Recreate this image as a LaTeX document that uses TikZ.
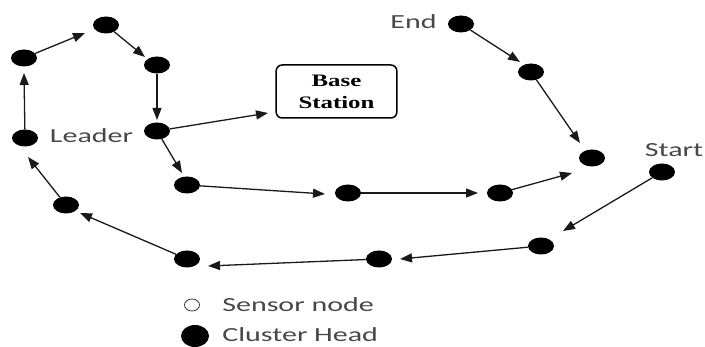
\documentclass[tikz,border=0pt]{standalone}
\usepackage{fontspec}
\newfontfamily\calfont{Carlito}
\newfontfamily\serfont{Liberation Serif}
\usetikzlibrary{arrows.meta,shapes.geometric}
\begin{document}
\begin{tikzpicture}[x=1pt,y=-1pt,
  ch/.style={shape=ellipse,fill=black,minimum width=26pt,minimum height=17pt,inner sep=0pt},
  link/.style={line width=1.3pt,draw=black!90,-{Triangle[length=12pt,width=9pt]}},
  lbl/.style={font=\calfont\fontsize{20}{24}\selectfont,text=black!72,xscale=1.5,inner sep=0pt}]
\path[use as bounding box] (0,0) rectangle (705,347);
% cluster heads
\node[ch] (a1) at (24,58) {};
\node[ch] (a2) at (106,25) {};
\node[ch] (a3) at (157,65) {};
\node[ch] (L) at (157,131) {};
\node[ch] (a5) at (187,185) {};
\node[ch] (m1) at (348,193) {};
\node[ch] (m2) at (500,193) {};
\node[ch] (end) at (461,24) {};
\node[ch] (e2) at (531,72) {};
\node[ch] (e3) at (592,158) {};
\node[ch] (st) at (662,172) {};
\node[ch] (lr) at (541,246) {};
\node[ch] (lm) at (379,259) {};
\node[ch] (ll) at (187,259) {};
\node[ch] (lw) at (66,205) {};
\node[ch] (lf) at (25,138) {};
% base station
\node[draw,line width=1.5pt,rounded corners=6pt,xscale=1.42,minimum width=85pt,minimum height=53pt,
      align=center,inner sep=0pt,font=\serfont\bfseries\fontsize{17.5}{22}\selectfont] (bs) at (336.5,91.5) {Base\\Station};
% labels
\node[lbl] (leader) at (91.5,136) {Leader};
\node[lbl] (endl) at (413.5,22) {End};
\node[lbl] (startl) at (674,150) {Start};
% arrow tips
\coordinate (t1) at (24,73);
\coordinate (t2) at (85,33);
\coordinate (t3) at (145,57);
\coordinate (t4) at (157,120);
\coordinate (t5) at (268,113);
\coordinate (t6) at (182,173);
\coordinate (t7) at (325,194);
\coordinate (t8) at (478,193);
\coordinate (t9) at (572,173);
\coordinate (t10) at (520,62);
\coordinate (t11) at (580,143);
\coordinate (t12) at (563,231);
\coordinate (t13) at (400,259);
\coordinate (t14) at (208,266);
\coordinate (t15) at (80,213);
\coordinate (t16) at (28,157);
% connectors
\draw[link] (lf) -- (t1);
\draw[link] (a1) -- (t2);
\draw[link] (a2) -- (t3);
\draw[link] (a3) -- (t4);
\draw[link] (L) -- (t5);
\draw[link] (L) -- (t6);
\draw[link] (a5) -- (t7);
\draw[link] (m1) -- (t8);
\draw[link] (m2) -- (t9);
\draw[link] (end) -- (t10);
\draw[link] (e2) -- (t11);
\draw[link] (st) -- (t12);
\draw[link] (lr) -- (t13);
\draw[link] (lm) -- (t14);
\draw[link] (ll) -- (t15);
\draw[link] (lw) -- (t16);
% legend
\node[draw,shape=ellipse,line width=0.8pt,draw=black!80,minimum width=15pt,minimum height=12pt,inner sep=0pt] (leg1) at (192,305) {};
\node[ch,minimum width=28pt,minimum height=22pt] (leg2) at (195,336) {};
\node[lbl,anchor=west] (legt1) at (222,305) {Sensor node};
\node[lbl,anchor=west] (legt2) at (222,335) {Cluster Head};
\end{tikzpicture}
\end{document}
